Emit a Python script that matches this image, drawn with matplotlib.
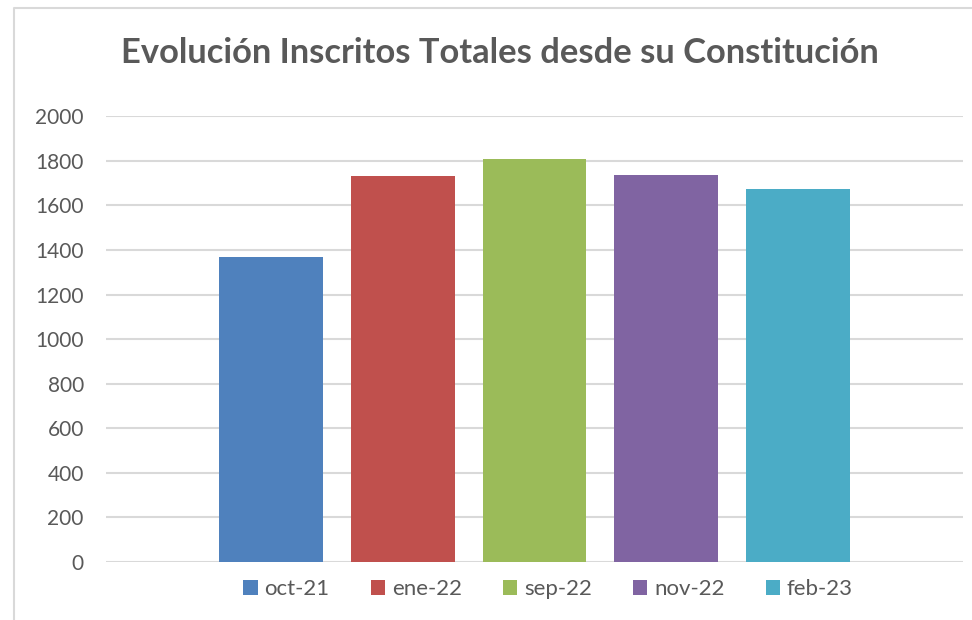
import matplotlib
matplotlib.use("Agg")
import matplotlib.pyplot as plt
from matplotlib.lines import Line2D

# Data
series_labels = ["oct-21", "ene-22", "sep-22", "nov-22", "feb-23"]
values = [1370, 1733, 1808, 1737, 1674]
colors = ["#4F81BD", "#C0504D", "#9BBB59", "#8064A2", "#4BACC6"]
yticks = [0, 200, 400, 600, 800, 1000, 1200, 1400, 1600, 1800, 2000]
title = "Evolución Inscritos Totales desde su Constitución"

plt.rcParams['font.family'] = ['Lato', 'DejaVu Sans']
W, H = 972, 620
fig = plt.figure(figsize=(W/100, H/100), dpi=100)
fig.patch.set_facecolor("white")

# outer chart border (only left and top edges visible)
fig.lines.append(Line2D([13.5/W, 13.5/W, 1.0], [0.0, 1 - 7.5/H, 1 - 7.5/H],
                        transform=fig.transFigure, color="#d9d9d9", linewidth=1.5))

ax = fig.add_axes([106/W, (H-562)/H, (963-106)/W, (562-116.3)/H])
for s in ax.spines.values():
    s.set_visible(False)

for i, (lab, v, c) in enumerate(zip(series_labels, values, colors)):
    ax.bar(i, v, width=104/132, color=c, label=lab, zorder=3)

ax.set_xlim(-1.25, 5.25)
ax.set_ylim(0, 2000)
ax.set_yticks(yticks)
ax.set_yticklabels([str(t) for t in yticks])
ax.set_xticks([])
ax.yaxis.grid(True, color="#d9d9d9", linewidth=1.5, zorder=0)
ax.set_axisbelow(True)
ax.tick_params(axis='y', length=0, pad=16, labelsize=15, labelcolor="#595959")

fig.text(500/W, 1 - 53/H, title, ha="center", va="center",
         fontsize=24.8, fontweight="bold", color="#595959")

leg = fig.legend(loc="center", bbox_to_anchor=(548/W, 1 - 589/H), ncol=5,
                 frameon=False, fontsize=16, handlelength=0.65, handleheight=0.65,
                 handletextpad=0.3, columnspacing=1.85, labelcolor="#595959")

fig.savefig("out.png", dpi=100)
